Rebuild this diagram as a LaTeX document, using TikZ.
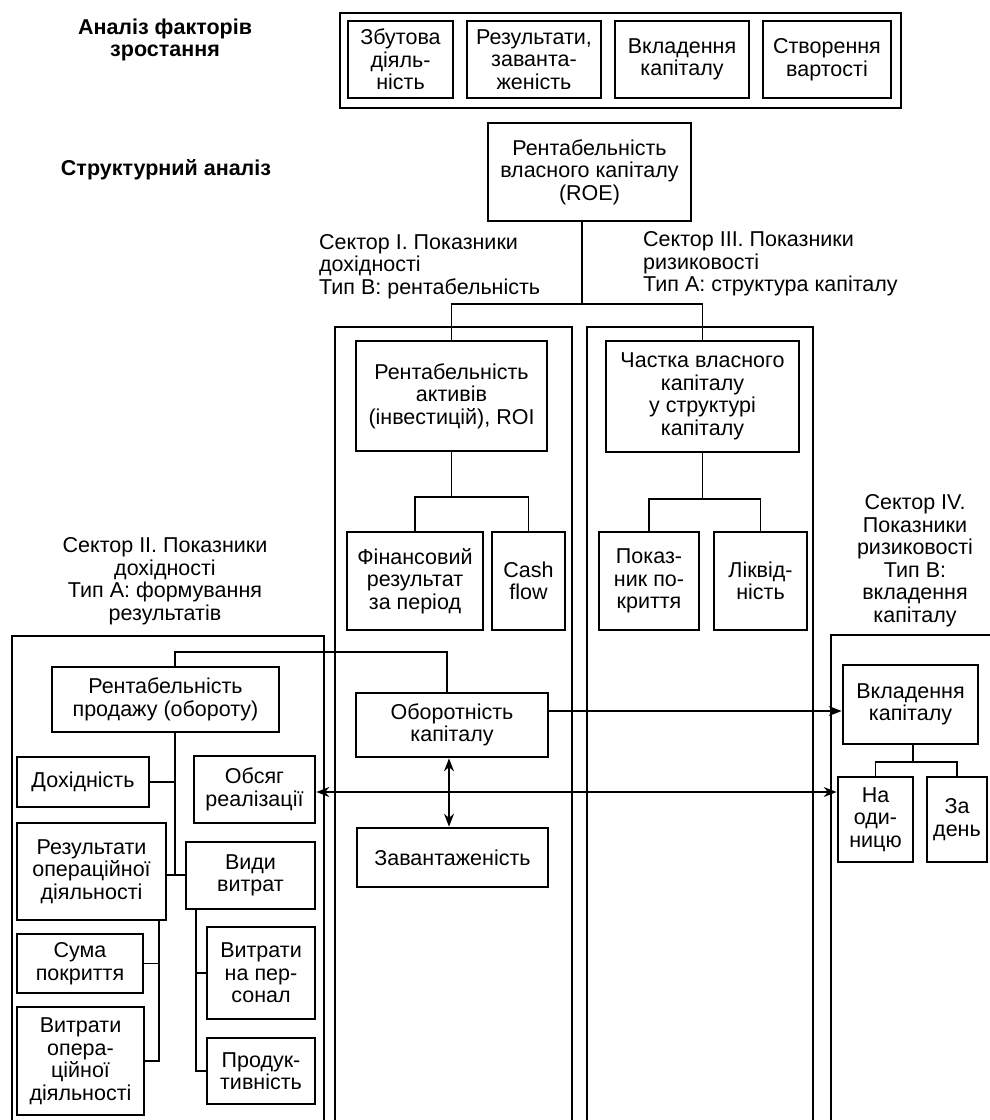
\documentclass[tikz,border=0pt]{standalone}
\usepackage{fontspec}
\setmainfont{Liberation Sans}
\usetikzlibrary{arrows.meta}
\begin{document}
\begin{tikzpicture}[x=1pt,y=-1pt,
  every node/.style={font=\fontsize{21.5}{22.5}\selectfont, inner sep=0pt},
  bx/.style={draw, line width=2.7pt, fill=white, align=center, inner sep=2pt},
  col/.style={line width=1.5pt},
  con/.style={line width=1.2pt},
  arr/.style={con, -{Stealth[length=13pt,width=10pt]}},
  darr/.style={con, {Stealth[length=13pt,width=10pt]}-{Stealth[length=13pt,width=10pt]}},
  lbl/.style={align=center},
  ttl/.style={align=center, font=\fontsize{21.5}{22.5}\selectfont\bfseries}
]
\useasboundingbox (0,0) rectangle (989,1120);

% column frames
\draw[col] (12,1130) -- (12,636) -- (324,636) -- (324,1130);
\draw[col] (335,1130) -- (335,327) -- (572,327) -- (572,1130);
\draw[col] (587,1130) -- (587,327) -- (813,327) -- (813,1130);
\draw[col] (831,1130) -- (831,635) -- (1000,635);

% titles and sector labels
\node[ttl] (t1) at (165,40) {Аналіз факторів\\зростання};
\node[ttl] (t2) at (166,170) {Структурний аналіз};
\node[align=left, anchor=west] (s1) at (319,266.5) {Сектор I. Показники\\дохідності\\Тип В: рентабельність};
\node[align=left, anchor=west] (s3) at (643,264) {Сектор III. Показники\\ризиковості\\Тип А: структура капіталу};
\node[lbl] (s2) at (165,581) {Сектор II. Показники\\дохідності\\Тип А: формування\\результатів};
\node[lbl] (s4) at (915,560.5) {Сектор IV.\\Показники\\ризиковості\\Тип В:\\вкладення\\капіталу};

% top group
\node[draw, line width=1.6pt, minimum width=561pt, minimum height=95pt] (top) at (620.5,60.5) {};
\node[bx, minimum width=105pt, minimum height=77pt] (z1) at (400.5,59.5) {Збутова\\діяль-\\ність};
\node[bx, minimum width=134pt, minimum height=77pt] (z2) at (534,59.5) {Результати,\\заванта-\\женість};
\node[bx, minimum width=134pt, minimum height=77pt] (z3) at (682,59.5) {Вкладення\\капіталу};
\node[bx, minimum width=128pt, minimum height=77pt] (z4) at (827,59.5) {Створення\\вартості};

% structure
\node[bx, minimum width=203pt, minimum height=98pt] (roe) at (589.5,172) {Рентабельність\\власного капіталу\\(ROE)};
\node[bx, minimum width=191pt, minimum height=110pt] (roi) at (451.5,396) {Рентабельність\\активів\\(інвестицій), ROI};
\node[bx, minimum width=193pt, minimum height=111pt] (chast) at (702.5,396.5) {Частка власного\\капіталу\\у структурі\\капіталу};
\node[bx, minimum width=136pt, minimum height=98pt] (fin) at (415,581) {Фінансовий\\результат\\за період};
\node[bx, minimum width=73pt, minimum height=98pt] (cash) at (528.5,581) {Cash\\flow};
\node[bx, minimum width=100pt, minimum height=98pt] (pokaz) at (649,581) {Показ-\\ник по-\\криття};
\node[bx, minimum width=93pt, minimum height=98pt] (likv) at (760.5,581) {Ліквід-\\ність};

\node[bx, minimum width=227pt, minimum height=65pt] (rprod) at (165.5,699.5) {Рентабельність\\продажу (обороту)};
\node[bx, minimum width=192pt, minimum height=64pt] (obor) at (452,725) {Оборотність\\капіталу};
\node[bx, minimum width=135pt, minimum height=79pt] (vkl) at (910.5,704.5) {Вкладення\\капіталу};
\node[bx, minimum width=132pt, minimum height=50pt] (dokh) at (83,782) {Дохідність};
\node[bx, minimum width=121pt, minimum height=67pt] (obsyag) at (254.5,789.5) {Обсяг\\реалізації};
\node[bx, minimum width=191pt, minimum height=59pt] (zav) at (452.5,857.5) {Завантаженість};
\node[bx, minimum width=75pt, minimum height=85pt] (naod) at (875.5,819.5) {На\\оди-\\ницю};
\node[bx, minimum width=60pt, minimum height=85pt] (zaden) at (957,819.5) {За\\день};
\node[bx, minimum width=149pt, minimum height=97pt] (resop) at (91.5,871.5) {Результати\\операційної\\діяльності};
\node[bx, minimum width=129pt, minimum height=67pt] (vydy) at (250.5,875.5) {Види\\витрат};
\node[bx, minimum width=126pt, minimum height=59pt] (suma) at (80,963.5) {Сума\\покриття};
\node[bx, minimum width=127pt, minimum height=108pt] (vytrop) at (80.5,1061) {Витрати\\опера-\\ційної\\діяльності};
\node[bx, minimum width=108pt, minimum height=92pt] (vpers) at (261,973) {Витрати\\на пер-\\сонал};
\node[bx, minimum width=108pt, minimum height=66pt] (prod) at (261,1071) {Продук-\\тивність};

% connectors
\coordinate (sp) at (582,304);
\draw[con] ([xshift=-7.5pt]roe.south) -- (sp);
\draw[con] (roi.north) |- (sp) -| (chast.north);

\coordinate (j1) at (451.5,497);
\draw[con] (roi.south) -- (j1);
\draw[con] (fin.north) |- (j1) -| (cash.north);

\coordinate (j2) at (702.5,499);
\draw[con] (chast.south) -- (j2);
\draw[con] (pokaz.north) |- (j2) -| (likv.north);

\coordinate (j3) at (300,652);
\draw[con] ([xshift=9.5pt]rprod.north) |- (j3) -| ([xshift=-5pt]obor.north);

\coordinate (sp2) at (175,875);
\draw[con] ([xshift=9.5pt]rprod.south) -- (sp2);
\draw[con] (dokh.east) -- (dokh.east -| sp2);
\draw[con] (resop.east |- sp2) -- (vydy.west |- sp2);

\coordinate (sp3) at (159,1061);
\draw[con] (resop.south -| sp3) -- (sp3) -- (vytrop.east);
\draw[con] (suma.east) -- (suma.east -| sp3);

\coordinate (sp4) at (196,1071);
\draw[con] (vydy.south -| sp4) -- (sp4) -- (prod.west);
\draw[con] (vpers.west) -- (vpers.west -| sp4);

\coordinate (j4) at (913,762);
\draw[con] (vkl.south -| j4) -- (j4);
\draw[con] (naod.north) |- (j4) -| (zaden.north);

\draw[arr] ([yshift=14pt]obor.east) -- ([yshift=14pt]obor.east -| vkl.west);
\draw[darr] ([yshift=-2.5pt]obsyag.east) -- ([yshift=-2.5pt]obsyag.east -| naod.west);
\draw[darr] ([xshift=-3pt]obor.south) -- ([xshift=-3pt]obor.south |- zav.north);
\end{tikzpicture}
\end{document}
